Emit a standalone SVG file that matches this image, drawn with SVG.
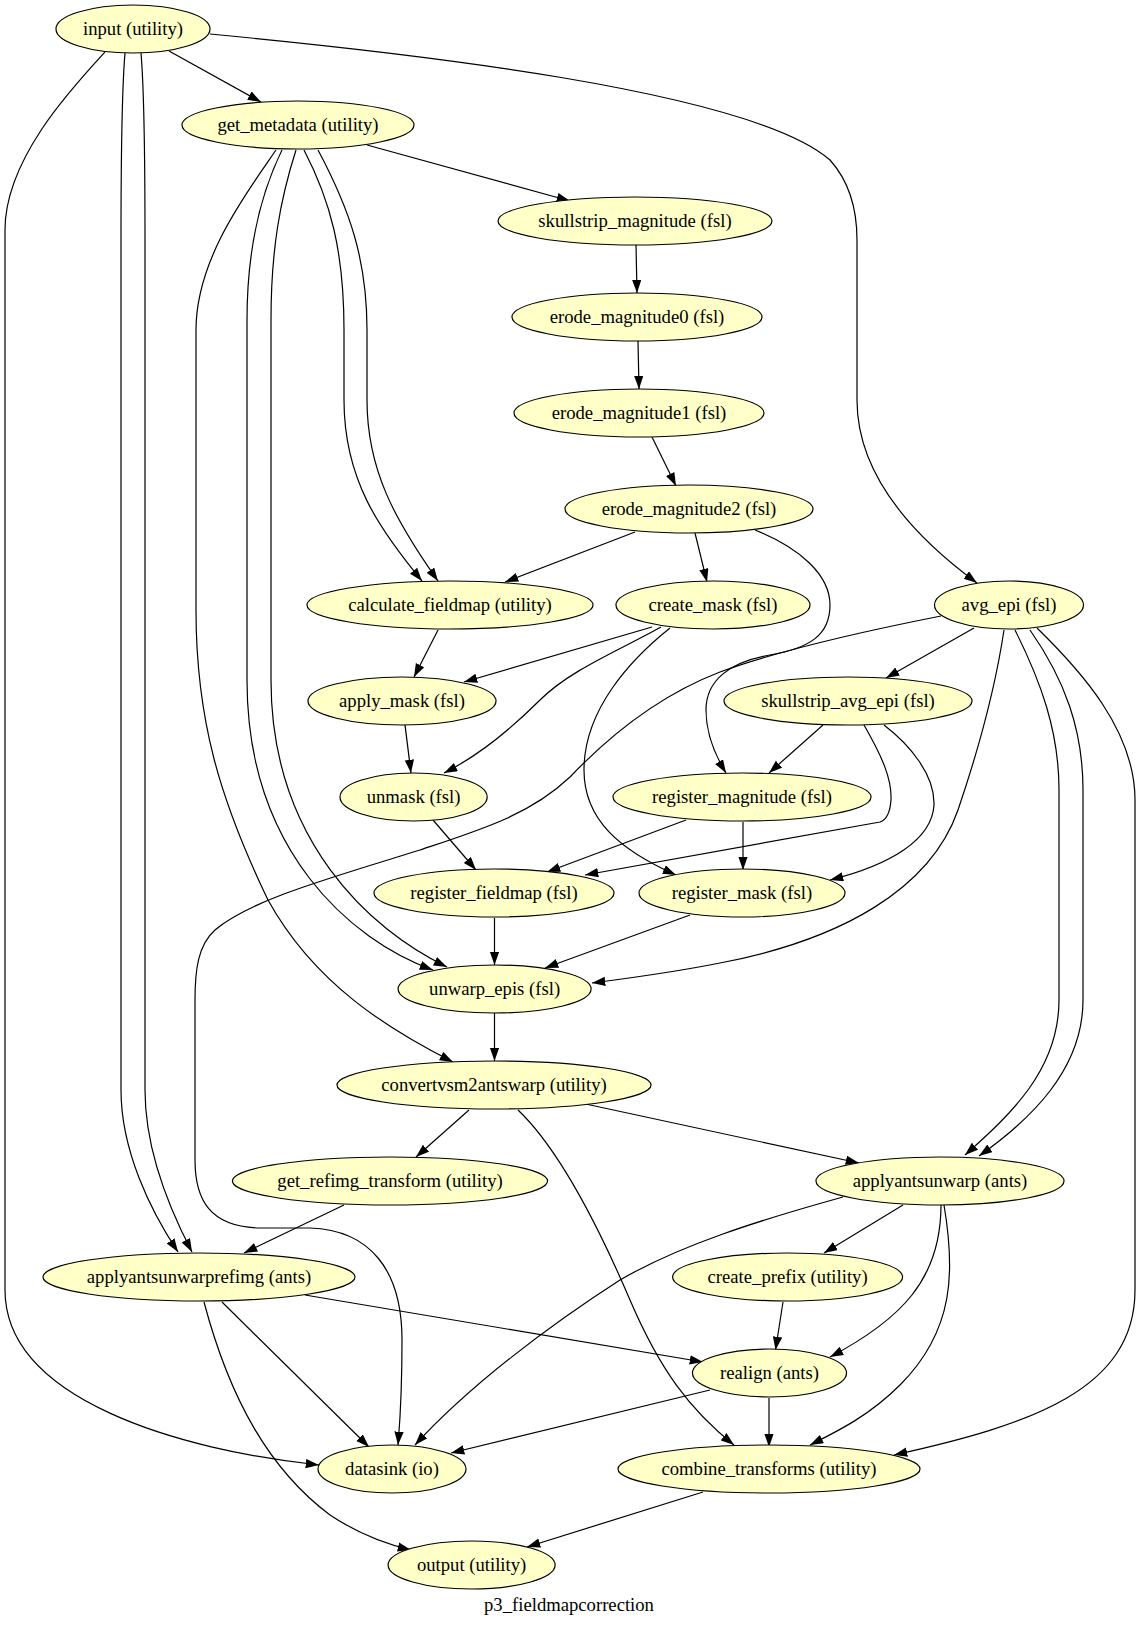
<svg xmlns="http://www.w3.org/2000/svg" width="1140" height="1625" viewBox="0 0 1140 1625">
<style>
.n ellipse{fill:#ffffc8;stroke:#000;stroke-width:1.2}
.n text,.t{font-family:"Liberation Serif","Times New Roman",serif;font-size:18.67px;text-anchor:middle;fill:#000}
.e path{fill:none;stroke:#000;stroke-width:1.2;marker-end:url(#ah)}
</style>
<defs>
<marker id="ah" markerWidth="14" markerHeight="10" refX="13.3" refY="4.67" orient="auto" markerUnits="userSpaceOnUse"><path d="M0,0 L13.3,4.67 L0,9.33 z" fill="#000"/></marker>
</defs>
<rect width="1140" height="1625" fill="#fff"/>
<g id="edges" class="e">
<path d="M169,51 L261,102"/>
<path d="M210,34 C400,52 750,90 830,160 C848,180 857,205 857,240 L857,400 C857,470 905,530 977,583"/>
<path d="M105,52 C70,90 5,160 5,230 L5,1290 C5,1400 180,1450 319,1465"/>
<path d="M125,53 C121,100 121,180 121,240 L121,1090 C121,1150 150,1210 178,1252"/>
<path d="M141,53 C145,100 145,180 145,240 L145,1090 C145,1150 170,1210 192,1252"/>
<path d="M367,145 L570,201"/>
<path d="M276,150 C245,195 196,260 196,330 L196,610 C196,720 220,800 268,900 C315,985 390,1030 453,1062"/>
<path d="M282,150 C260,195 247,250 247,320 L247,680 C247,850 350,940 433,970"/>
<path d="M296,150 C280,200 271,250 271,320 L271,680 C271,840 370,930 447,967"/>
<path d="M304,150 C330,200 344,250 344,330 L344,400 C344,480 380,530 422,581"/>
<path d="M318,150 C350,210 367,260 367,330 L367,400 C367,470 395,520 438,581"/>
<path d="M636,245 L637,293"/>
<path d="M638,341 L639,389"/>
<path d="M652,437 L676,486"/>
<path d="M635,532 L505,582"/>
<path d="M695,533 L707,582"/>
<path d="M755,530 C800,548 830,575 830,605 C830,635 810,648 770,655 C730,662 706,680 706,710 C706,735 715,755 726,773"/>
<path d="M652,627 L464,682"/>
<path d="M661,627 C620,650 570,670 540,700 C510,730 480,755 444,773"/>
<path d="M670,628 C630,660 584,710 584,770 C584,820 620,850 676,875"/>
<path d="M438,630 L414,677"/>
<path d="M405,725 L411,773"/>
<path d="M433,820 L476,870"/>
<path d="M974,628 L886,678"/>
<path d="M941,616 C860,632 780,650 720,672 C660,695 610,735 570,777 C530,815 480,830 420,850 C330,878 250,900 215,930 C198,945 195,970 195,1000 L195,1160 C195,1200 210,1227 260,1228 L310,1228 C370,1230 402,1270 402,1340 C402,1400 400,1420 398,1445"/>
<path d="M1004,630 C995,690 975,760 958,810 C930,890 840,940 720,963 C670,973 630,978 592,983"/>
<path d="M1015,630 C1040,680 1059,730 1059,790 L1059,1000 C1059,1070 1010,1115 965,1155"/>
<path d="M1030,630 C1065,680 1083,730 1083,790 L1083,1000 C1083,1070 1030,1120 979,1156"/>
<path d="M1037,628 C1080,670 1135,730 1135,800 L1135,1290 C1135,1390 1030,1425 894,1455"/>
<path d="M823,725 L769,773"/>
<path d="M864,725 C883,758 892,780 891,800 C890,814 886,820 880,822 L585,875"/>
<path d="M884,725 C910,745 935,775 934,805 C932,840 890,865 830,880"/>
<path d="M686,820 L547,872"/>
<path d="M743,822 L743,870"/>
<path d="M494.5,918 L494.5,965"/>
<path d="M690,915 L545,968"/>
<path d="M494.5,1013 L494.5,1061"/>
<path d="M469,1110 L416,1157"/>
<path d="M581,1103 L859,1163"/>
<path d="M518,1110 C560,1150 600,1230 630,1300 C660,1370 690,1410 734,1445"/>
<path d="M344,1205 L244,1253"/>
<path d="M843,1197 C760,1220 680,1245 620,1280 C550,1325 470,1385 415,1445"/>
<path d="M903,1205 L824,1253"/>
<path d="M941,1205 C941,1280 900,1320 830,1357"/>
<path d="M944,1205 C955,1270 955,1330 900,1385 C870,1415 840,1430 810,1445"/>
<path d="M305,1295 L703,1362"/>
<path d="M222,1302 L369,1447"/>
<path d="M204,1302 C230,1400 270,1470 330,1515 C360,1535 390,1545 411,1550"/>
<path d="M783,1302 L775.5,1350"/>
<path d="M710,1390 L451,1453"/>
<path d="M769,1398 L769,1447"/>
<path d="M703,1492 L527,1547"/>
</g>
<g id="input" class="n"><ellipse cx="133" cy="29" rx="77" ry="24"/><text x="133" y="35">input (utility)</text></g>
<g id="get_metadata" class="n"><ellipse cx="298" cy="125" rx="116" ry="24"/><text x="298" y="131">get_metadata (utility)</text></g>
<g id="skullstrip_magnitude" class="n"><ellipse cx="635" cy="221" rx="137" ry="24"/><text x="635" y="227">skullstrip_magnitude (fsl)</text></g>
<g id="erode_magnitude0" class="n"><ellipse cx="637" cy="317" rx="125" ry="24"/><text x="637" y="323">erode_magnitude0 (fsl)</text></g>
<g id="erode_magnitude1" class="n"><ellipse cx="639" cy="413" rx="125" ry="24"/><text x="639" y="419">erode_magnitude1 (fsl)</text></g>
<g id="erode_magnitude2" class="n"><ellipse cx="689" cy="509" rx="124" ry="24"/><text x="689" y="515">erode_magnitude2 (fsl)</text></g>
<g id="calculate_fieldmap" class="n"><ellipse cx="450" cy="605" rx="143" ry="24"/><text x="450" y="611">calculate_fieldmap (utility)</text></g>
<g id="create_mask" class="n"><ellipse cx="713" cy="605" rx="97" ry="24"/><text x="713" y="611">create_mask (fsl)</text></g>
<g id="avg_epi" class="n"><ellipse cx="1009" cy="605" rx="74.5" ry="24"/><text x="1009" y="611">avg_epi (fsl)</text></g>
<g id="apply_mask" class="n"><ellipse cx="402" cy="701" rx="94" ry="24"/><text x="402" y="707">apply_mask (fsl)</text></g>
<g id="skullstrip_avg_epi" class="n"><ellipse cx="848" cy="701" rx="124" ry="24"/><text x="848" y="707">skullstrip_avg_epi (fsl)</text></g>
<g id="unmask" class="n"><ellipse cx="413.6" cy="797" rx="73.6" ry="24"/><text x="413.6" y="803">unmask (fsl)</text></g>
<g id="register_magnitude" class="n"><ellipse cx="742" cy="797" rx="129" ry="24"/><text x="742" y="803">register_magnitude (fsl)</text></g>
<g id="register_fieldmap" class="n"><ellipse cx="494" cy="893" rx="120" ry="24"/><text x="494" y="899">register_fieldmap (fsl)</text></g>
<g id="register_mask" class="n"><ellipse cx="742" cy="893" rx="103" ry="24"/><text x="742" y="899">register_mask (fsl)</text></g>
<g id="unwarp_epis" class="n"><ellipse cx="494.6" cy="989" rx="96.5" ry="24"/><text x="494.6" y="995">unwarp_epis (fsl)</text></g>
<g id="convertvsm2antswarp" class="n"><ellipse cx="494" cy="1085" rx="157" ry="24"/><text x="494" y="1091">convertvsm2antswarp (utility)</text></g>
<g id="get_refimg_transform" class="n"><ellipse cx="390" cy="1181" rx="157.6" ry="24"/><text x="390" y="1187">get_refimg_transform (utility)</text></g>
<g id="applyantsunwarp" class="n"><ellipse cx="940" cy="1181" rx="124" ry="24"/><text x="940" y="1187">applyantsunwarp (ants)</text></g>
<g id="applyantsunwarprefimg" class="n"><ellipse cx="199" cy="1277" rx="156" ry="24"/><text x="199" y="1283">applyantsunwarprefimg (ants)</text></g>
<g id="create_prefix" class="n"><ellipse cx="787.6" cy="1277" rx="115" ry="24"/><text x="787.6" y="1283">create_prefix (utility)</text></g>
<g id="realign" class="n"><ellipse cx="769.5" cy="1373" rx="77" ry="24"/><text x="769.5" y="1379">realign (ants)</text></g>
<g id="datasink" class="n"><ellipse cx="392" cy="1469" rx="74" ry="24"/><text x="392" y="1475">datasink (io)</text></g>
<g id="combine_transforms" class="n"><ellipse cx="769" cy="1469" rx="151" ry="24"/><text x="769" y="1475">combine_transforms (utility)</text></g>
<g id="output" class="n"><ellipse cx="471.6" cy="1565" rx="83.5" ry="24"/><text x="471.6" y="1571">output (utility)</text></g>
<text class="t" x="569" y="1611">p3_fieldmapcorrection</text>
</svg>
